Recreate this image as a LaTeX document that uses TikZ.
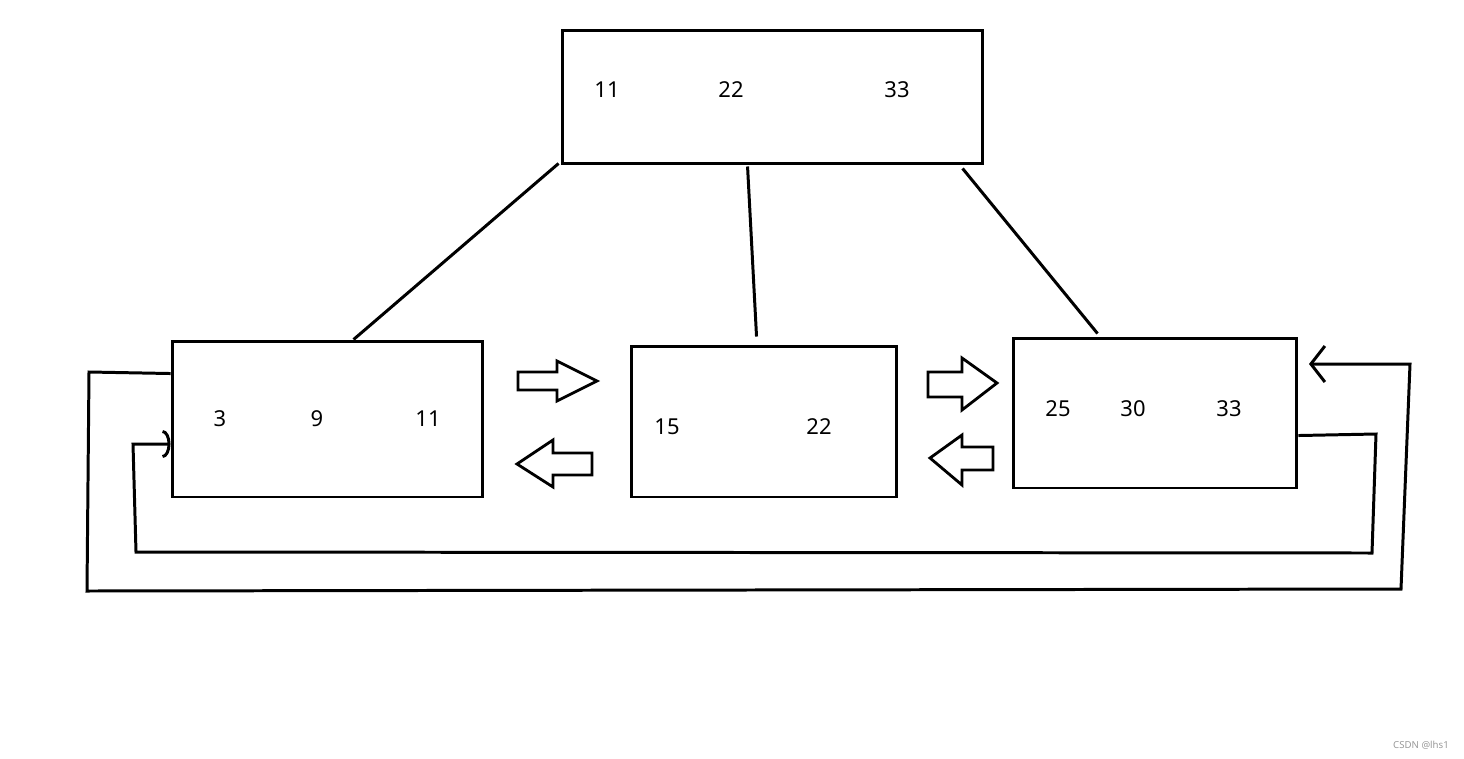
\documentclass[tikz,border=0pt]{standalone}
\usepackage{fontspec}
\setmainfont{Noto Sans}
\usetikzlibrary{calc,arrows.meta}
\begin{document}
\begin{tikzpicture}[x=0.02cm,y=-0.02cm,
  line width=1.7pt, line join=miter,
  box/.style={draw, rectangle, inner sep=0pt},
  num/.style={font=\fontsize{12.5}{15}\selectfont, inner sep=0pt},
  conn/.style={draw},
  blockarrow/.style={draw, line width=1.6pt, line join=miter}]
\useasboundingbox (0,0) rectangle (1464,758);
% boxes
\node[box, minimum width=8.42cm, minimum height=2.68cm] (top) at (772.5,97) {};
\node[box, minimum width=6.22cm, minimum height=3.12cm] (left) at (327.5,419) {};
\node[box, minimum width=5.32cm, minimum height=3.02cm] (mid) at (764,421.5) {};
\node[box, minimum width=5.68cm, minimum height=3.00cm] (right) at (1155,413) {};
% numbers
\node[num] (t1) at (607,90) {11};
\node[num] (t2) at (731,90) {22};
\node[num] (t3) at (897,90) {33};
\node[num] (l1) at (220,419) {3};
\node[num] (l2) at (317,419) {9};
\node[num] (l3) at (428,419) {11};
\node[num] (m1) at (667,427) {15};
\node[num] (m2) at (819,427) {22};
\node[num] (r1) at (1058,409) {25};
\node[num] (r2) at (1133,409) {30};
\node[num] (r3) at (1229,409) {33};
% tree connectors
\draw[conn] ($(top.south west)+(-2,-2)$) -- ($(left.north west)+(183,0)$);
\draw[conn] ($(top.south west)+(187,1)$) -- ($(mid.north west)+(127,-8)$);
\draw[conn] ($(top.south west)+(402,3)$) -- ($(right.north west)+(86,-3)$);
% block arrows
\draw[blockarrow] (518,372) -- (557,372) -- (557,361) -- (597,381) -- (557,401) -- (557,390) -- (518,390) -- cycle;
\draw[blockarrow] (592,453) -- (553,453) -- (553,440) -- (517,464) -- (553,487) -- (553,475) -- (592,475) -- cycle;
\draw[blockarrow] (928,372) -- (962,372) -- (962,358) -- (997,383) -- (962,410) -- (962,397) -- (928,397) -- cycle;
\draw[blockarrow] (993,447) -- (962,447) -- (962,435) -- (930,458) -- (962,485) -- (962,470) -- (993,470) -- cycle;
% loops
\coordinate (outerEnd) at (1309,364);
\draw[conn, -{Straight Barb[length=0.28cm, width=0.72cm, line width=1.7pt]}]
  ($(left.north west)+(0,34)$) -- (89,372) -- (87,591) -- (1401,589) -- (1410,364) -- (outerEnd);
\draw[conn, -{Arc Barb[length=0.16cm, width=0.56cm, line width=1.7pt]}]
  ($(right.north east)+(0,99)$) -- (1376,434) -- (1372,553) -- (136,552) -- (133,444) -- (left.west |- 0,444);
% watermark
\node[font=\fontsize{5.5}{6}\selectfont, text=black!40, inner sep=0pt] (wm) at (1421,745) {CSDN @lhs1};
\end{tikzpicture}
\end{document}
